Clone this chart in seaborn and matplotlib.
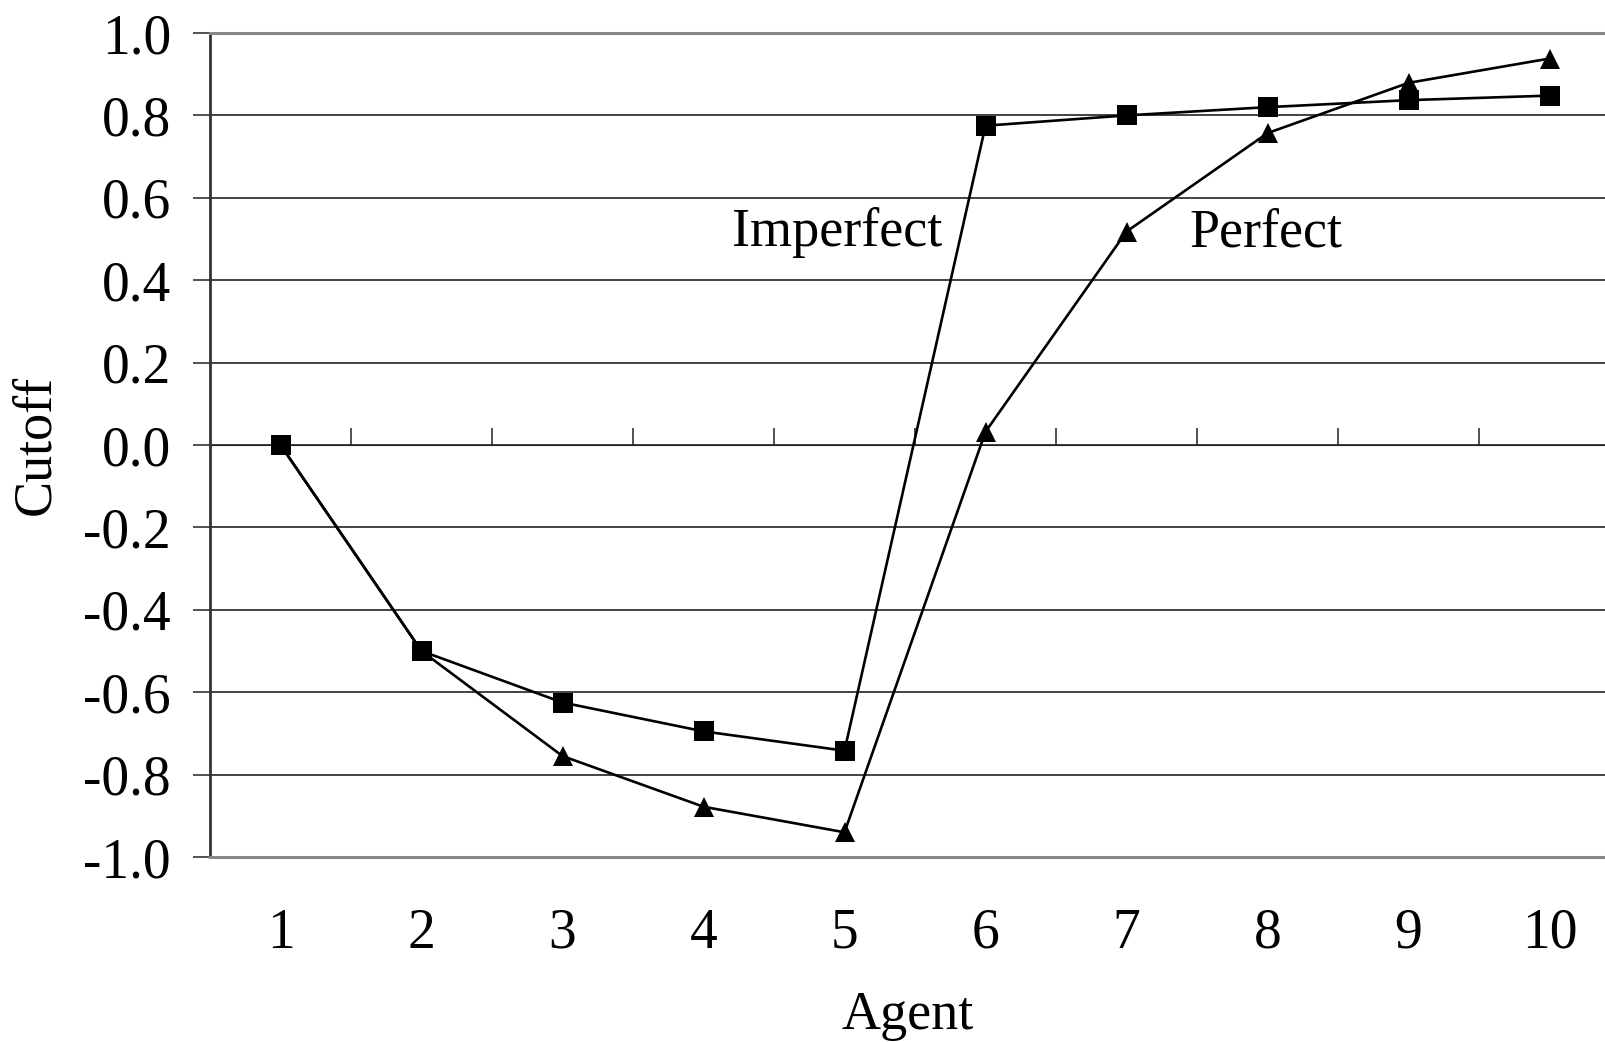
import numpy as np
import pandas as pd
import seaborn as sns
from matplotlib import pyplot as plt

# Data
agents = [1, 2, 3, 4, 5, 6, 7, 8, 9, 10]
imperfect = [0.0, -0.5, -0.625, -0.695, -0.742, 0.775, 0.800, 0.820, 0.837, 0.848]
perfect = [0.0, -0.5, -0.755, -0.878, -0.940, 0.032, 0.518, 0.757, 0.879, 0.938]
y_ticks = [-1.0, -0.8, -0.6, -0.4, -0.2, 0.0, 0.2, 0.4, 0.6, 0.8, 1.0]

df = pd.DataFrame({
    "Agent": agents * 2,
    "Cutoff": imperfect + perfect,
    "info": ["Imperfect"] * len(agents) + ["Perfect"] * len(agents),
})

sns.set_style("white")
plt.rcParams['font.family'] = ['Liberation Serif', 'DejaVu Serif']
plt.rcParams['axes.unicode_minus'] = False
plt.rcParams['text.color'] = 'black'
plt.rcParams['axes.labelcolor'] = 'black'
plt.rcParams['xtick.color'] = 'black'
plt.rcParams['ytick.color'] = 'black'

fig = plt.figure(figsize=(16.06, 10.42), dpi=100)
ax = fig.add_axes([210 / 1606, 1 - 857 / 1042, 1 - 210 / 1606, (857 - 33) / 1042])

# gridlines (black inside, grey at the borders)
for v in y_ticks[1:-1]:
    ax.axhline(v, color="#222222", lw=1.2, zorder=1)

sns.lineplot(data=df, x="Agent", y="Cutoff", style="info",
             markers={"Imperfect": "s", "Perfect": "^"}, dashes=False,
             color="black", lw=1.9, markersize=15, markeredgewidth=0,
             legend=False, ax=ax, zorder=3)

ax.set_xlim(0.5, 0.5 + (1606 - 210) / 141)
ax.set_ylim(-1.0, 1.0)

# spines
ax.spines["right"].set_visible(False)
ax.spines["top"].set_color("#888888")
ax.spines["top"].set_linewidth(2.2)
ax.spines["bottom"].set_color("#888888")
ax.spines["bottom"].set_linewidth(2.2)
ax.spines["left"].set_color("#333333")
ax.spines["left"].set_linewidth(2.0)

ax.set_yticks(y_ticks)
ax.set_yticklabels([f"{v:.1f}" for v in y_ticks])
ax.tick_params(axis="y", left=True, direction="out", length=12, width=1.2,
               color="#333333", labelsize=40, pad=16)

ax.set_xticks(agents)
ax.set_xticklabels([str(a) for a in agents])
ax.tick_params(axis="x", bottom=False, labelsize=40, pad=33)

# category axis at y = 0 with tick marks between categories
sec = ax.secondary_xaxis(0.5)
sec.set_xticks([a + 0.5 for a in agents[:-1]])
sec.set_xticklabels([])
sec.tick_params(direction="out", length=12, width=1.2, color="#333333")
sec.spines["bottom"].set_color("#111111")
sec.spines["bottom"].set_linewidth(1.5)

ax.set_xlabel("Agent", fontsize=39, labelpad=22)
ax.set_ylabel("Cutoff", fontsize=39, labelpad=16)

ax.text(4.95, 0.515, "Imperfect", fontsize=39, ha="center", va="center")
ax.text(7.99, 0.515, "Perfect", fontsize=39, ha="center", va="center")

fig.savefig("out.png", dpi=100)
